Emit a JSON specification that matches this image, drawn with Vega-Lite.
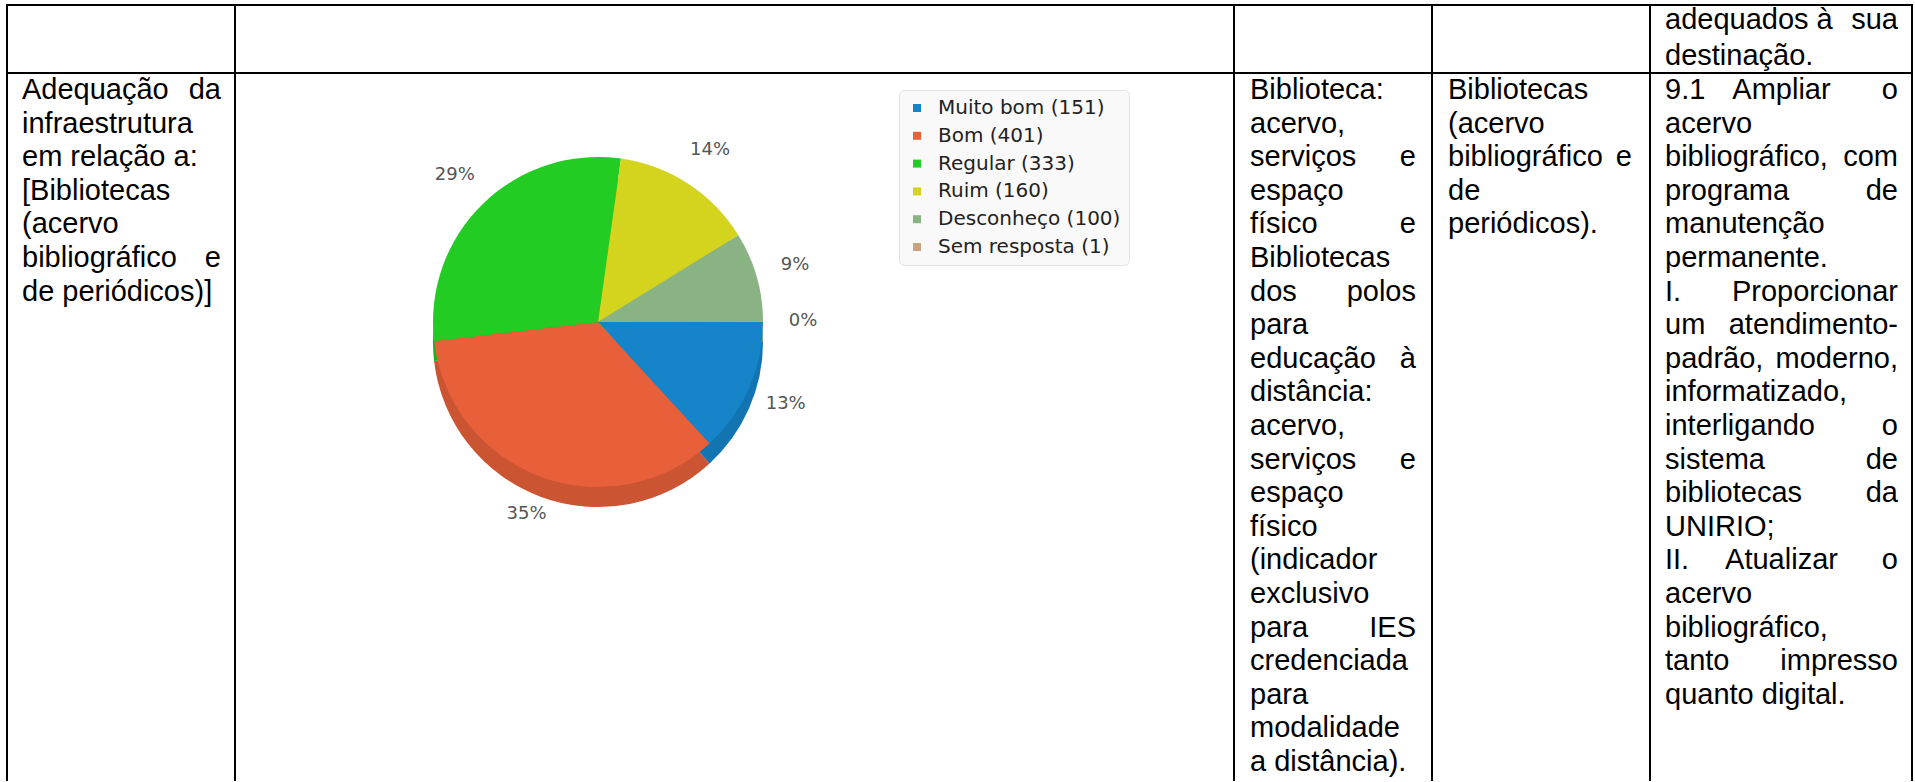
{
  "$schema": "https://vega.github.io/schema/vega-lite/v6.json",
  "padding": {"left": 6, "top": 4, "right": 2, "bottom": 0},
  "spacing": 0,
  "bounds": "flush",
  "columns": 5,
  "config": {
    "view": {"stroke": "#000000", "strokeWidth": 2},
    "text": {"font": "Liberation Sans", "fontSize": 29, "baseline": "alphabetic", "color": "#000000"},
    "legend": {"orient": "none", "legendX": 892, "legendY": 85, "title": null, "symbolType": "square", "symbolSize": 64, "symbolStrokeWidth": 0, "labelFont": "DejaVu Sans", "labelFontSize": 20, "labelColor": "#222222", "labelOffset": 11, "rowPadding": 7.8, "padding": 8, "fillColor": "#f9f9f9", "strokeColor": "#e3e3e3", "cornerRadius": 5, "labelLimit": 400}
  },
  "datasets": {
    "pie": [
      {"i": 1, "cat": "Muito bom (151)", "n": 151, "pct": "13%"},
      {"i": 2, "cat": "Bom (401)", "n": 401, "pct": "35%"},
      {"i": 3, "cat": "Regular (333)", "n": 333, "pct": "29%"},
      {"i": 4, "cat": "Ruim (160)", "n": 160, "pct": "14%"},
      {"i": 5, "cat": "Desconheço (100)", "n": 100, "pct": "9%"},
      {"i": 6, "cat": "Sem resposta (1)", "n": 1, "pct": "0%"}
    ],
    "cells": [
      {"r": 1, "c": 1, "line": 1, "pos": "L", "t": ""},
      {"r": 1, "c": 2, "line": 1, "pos": "L", "t": ""},
      {"r": 1, "c": 3, "line": 1, "pos": "L", "t": ""},
      {"r": 1, "c": 4, "line": 1, "pos": "L", "t": ""},

      {"r": 2, "c": 1, "line": 1, "pos": "L", "t": "Adequação"},
      {"r": 2, "c": 1, "line": 1, "pos": "R", "t": "da"},
      {"r": 2, "c": 1, "line": 2, "pos": "L", "t": "infraestrutura"},
      {"r": 2, "c": 1, "line": 3, "pos": "L", "t": "em relação a:"},
      {"r": 2, "c": 1, "line": 4, "pos": "L", "t": "[Bibliotecas"},
      {"r": 2, "c": 1, "line": 5, "pos": "L", "t": "(acervo"},
      {"r": 2, "c": 1, "line": 6, "pos": "L", "t": "bibliográfico"},
      {"r": 2, "c": 1, "line": 6, "pos": "R", "t": "e"},
      {"r": 2, "c": 1, "line": 7, "pos": "L", "t": "de periódicos)]"},

      {"r": 2, "c": 3, "line": 1, "pos": "L", "t": "Biblioteca:"},
      {"r": 2, "c": 3, "line": 2, "pos": "L", "t": "acervo,"},
      {"r": 2, "c": 3, "line": 3, "pos": "L", "t": "serviços"},
      {"r": 2, "c": 3, "line": 3, "pos": "R", "t": "e"},
      {"r": 2, "c": 3, "line": 4, "pos": "L", "t": "espaço"},
      {"r": 2, "c": 3, "line": 5, "pos": "L", "t": "físico"},
      {"r": 2, "c": 3, "line": 5, "pos": "R", "t": "e"},
      {"r": 2, "c": 3, "line": 6, "pos": "L", "t": "Bibliotecas"},
      {"r": 2, "c": 3, "line": 7, "pos": "L", "t": "dos"},
      {"r": 2, "c": 3, "line": 7, "pos": "R", "t": "polos"},
      {"r": 2, "c": 3, "line": 8, "pos": "L", "t": "para"},
      {"r": 2, "c": 3, "line": 9, "pos": "L", "t": "educação"},
      {"r": 2, "c": 3, "line": 9, "pos": "R", "t": "à"},
      {"r": 2, "c": 3, "line": 10, "pos": "L", "t": "distância:"},
      {"r": 2, "c": 3, "line": 11, "pos": "L", "t": "acervo,"},
      {"r": 2, "c": 3, "line": 12, "pos": "L", "t": "serviços"},
      {"r": 2, "c": 3, "line": 12, "pos": "R", "t": "e"},
      {"r": 2, "c": 3, "line": 13, "pos": "L", "t": "espaço"},
      {"r": 2, "c": 3, "line": 14, "pos": "L", "t": "físico"},
      {"r": 2, "c": 3, "line": 15, "pos": "L", "t": "(indicador"},
      {"r": 2, "c": 3, "line": 16, "pos": "L", "t": "exclusivo"},
      {"r": 2, "c": 3, "line": 17, "pos": "L", "t": "para"},
      {"r": 2, "c": 3, "line": 17, "pos": "R", "t": "IES"},
      {"r": 2, "c": 3, "line": 18, "pos": "L", "t": "credenciada"},
      {"r": 2, "c": 3, "line": 19, "pos": "L", "t": "para"},
      {"r": 2, "c": 3, "line": 20, "pos": "L", "t": "modalidade"},
      {"r": 2, "c": 3, "line": 21, "pos": "L", "t": "a distância)."},

      {"r": 2, "c": 4, "line": 1, "pos": "L", "t": "Bibliotecas"},
      {"r": 2, "c": 4, "line": 2, "pos": "L", "t": "(acervo"},
      {"r": 2, "c": 4, "line": 3, "pos": "L", "t": "bibliográfico"},
      {"r": 2, "c": 4, "line": 3, "pos": "R", "t": "e"},
      {"r": 2, "c": 4, "line": 4, "pos": "L", "t": "de"},
      {"r": 2, "c": 4, "line": 5, "pos": "L", "t": "periódicos)."},

      {"r": 1, "c": 5, "line": 1, "pos": "L", "t": "adequados à"},
      {"r": 1, "c": 5, "line": 1, "pos": "R", "t": "sua"},
      {"r": 1, "c": 5, "line": 2, "pos": "L", "t": "destinação."},

      {"r": 2, "c": 5, "line": 1, "pos": "L", "t": "9.1"},
      {"r": 2, "c": 5, "line": 1, "pos": "C", "t": "Ampliar"},
      {"r": 2, "c": 5, "line": 1, "pos": "R", "t": "o"},
      {"r": 2, "c": 5, "line": 2, "pos": "L", "t": "acervo"},
      {"r": 2, "c": 5, "line": 3, "pos": "L", "t": "bibliográfico,"},
      {"r": 2, "c": 5, "line": 3, "pos": "R", "t": "com"},
      {"r": 2, "c": 5, "line": 4, "pos": "L", "t": "programa"},
      {"r": 2, "c": 5, "line": 4, "pos": "R", "t": "de"},
      {"r": 2, "c": 5, "line": 5, "pos": "L", "t": "manutenção"},
      {"r": 2, "c": 5, "line": 6, "pos": "L", "t": "permanente."},
      {"r": 2, "c": 5, "line": 7, "pos": "L", "t": "I."},
      {"r": 2, "c": 5, "line": 7, "pos": "R", "t": "Proporcionar"},
      {"r": 2, "c": 5, "line": 8, "pos": "L", "t": "um"},
      {"r": 2, "c": 5, "line": 8, "pos": "R", "t": "atendimento-"},
      {"r": 2, "c": 5, "line": 9, "pos": "L", "t": "padrão,"},
      {"r": 2, "c": 5, "line": 9, "pos": "R", "t": "moderno,"},
      {"r": 2, "c": 5, "line": 10, "pos": "L", "t": "informatizado,"},
      {"r": 2, "c": 5, "line": 11, "pos": "L", "t": "interligando"},
      {"r": 2, "c": 5, "line": 11, "pos": "R", "t": "o"},
      {"r": 2, "c": 5, "line": 12, "pos": "L", "t": "sistema"},
      {"r": 2, "c": 5, "line": 12, "pos": "R", "t": "de"},
      {"r": 2, "c": 5, "line": 13, "pos": "L", "t": "bibliotecas"},
      {"r": 2, "c": 5, "line": 13, "pos": "R", "t": "da"},
      {"r": 2, "c": 5, "line": 14, "pos": "L", "t": "UNIRIO;"},
      {"r": 2, "c": 5, "line": 15, "pos": "L", "t": "II."},
      {"r": 2, "c": 5, "line": 15, "pos": "C", "t": "Atualizar"},
      {"r": 2, "c": 5, "line": 15, "pos": "R", "t": "o"},
      {"r": 2, "c": 5, "line": 16, "pos": "L", "t": "acervo"},
      {"r": 2, "c": 5, "line": 17, "pos": "L", "t": "bibliográfico,"},
      {"r": 2, "c": 5, "line": 18, "pos": "L", "t": "tanto"},
      {"r": 2, "c": 5, "line": 18, "pos": "R", "t": "impresso"},
      {"r": 2, "c": 5, "line": 19, "pos": "L", "t": "quanto digital."}
    ]
  },
  "concat": [
    {
      "width": 228, "height": 68,
      "data": {"name": "cells"},
      "transform": [{"filter": "datum.r == 1 && datum.c == 1"}],
      "mark": {"type": "text", "align": "left"},
      "encoding": {
        "x": {"field": "pos", "type": "nominal", "axis": null, "scale": {"type": "point", "domain": ["L", "C", "R"], "range": [15, 214], "padding": 0}},
        "y": {"field": "line", "type": "quantitative", "axis": null, "scale": {"domain": [1, 21], "range": [26, 698]}},
        "text": {"field": "t", "type": "nominal"}
      }
    },
    {
      "width": 999, "height": 68,
      "data": {"name": "cells"},
      "transform": [{"filter": "datum.r == 1 && datum.c == 2"}],
      "mark": {"type": "text", "align": "left"},
      "encoding": {
        "x": {"field": "pos", "type": "nominal", "axis": null, "scale": {"type": "point", "domain": ["L", "C", "R"], "range": [15, 984], "padding": 0}},
        "y": {"field": "line", "type": "quantitative", "axis": null, "scale": {"domain": [1, 21], "range": [26, 698]}},
        "text": {"field": "t", "type": "nominal"}
      }
    },
    {
      "width": 198, "height": 68,
      "data": {"name": "cells"},
      "transform": [{"filter": "datum.r == 1 && datum.c == 3"}],
      "mark": {"type": "text", "align": "left"},
      "encoding": {
        "x": {"field": "pos", "type": "nominal", "axis": null, "scale": {"type": "point", "domain": ["L", "C", "R"], "range": [16, 182], "padding": 0}},
        "y": {"field": "line", "type": "quantitative", "axis": null, "scale": {"domain": [1, 21], "range": [26, 698]}},
        "text": {"field": "t", "type": "nominal"}
      }
    },
    {
      "width": 218, "height": 68,
      "data": {"name": "cells"},
      "transform": [{"filter": "datum.r == 1 && datum.c == 4"}],
      "mark": {"type": "text", "align": "left"},
      "encoding": {
        "x": {"field": "pos", "type": "nominal", "axis": null, "scale": {"type": "point", "domain": ["L", "C", "R"], "range": [16, 200], "padding": 0}},
        "y": {"field": "line", "type": "quantitative", "axis": null, "scale": {"domain": [1, 21], "range": [26, 698]}},
        "text": {"field": "t", "type": "nominal"}
      }
    },
    {
      "width": 262, "height": 68,
      "data": {"name": "cells"},
      "transform": [{"filter": "datum.r == 1 && datum.c == 5"}],
      "encoding": {
        "x": {"field": "pos", "type": "nominal", "axis": null, "scale": {"type": "point", "domain": ["L", "C", "R"], "range": [15, 248], "padding": 0}},
        "y": {"field": "line", "type": "quantitative", "axis": null, "scale": {"domain": [1, 2], "range": [24, 59.6]}},
        "text": {"field": "t", "type": "nominal"}
      },
      "layer": [
        {"transform": [{"filter": "datum.pos == 'L'"}], "mark": {"type": "text", "align": "left"}},
        {"transform": [{"filter": "datum.pos == 'C'"}], "mark": {"type": "text", "align": "center"}},
        {"transform": [{"filter": "datum.pos == 'R'"}], "mark": {"type": "text", "align": "right"}}
      ]
    },
    {
      "width": 228, "height": 708,
      "view": {"strokeDash": [936, 228, 718]},
      "data": {"name": "cells"},
      "transform": [{"filter": "datum.r == 2 && datum.c == 1"}],
      "encoding": {
        "x": {"field": "pos", "type": "nominal", "axis": null, "scale": {"type": "point", "domain": ["L", "C", "R"], "range": [15, 214], "padding": 0}},
        "y": {"field": "line", "type": "quantitative", "axis": null, "scale": {"domain": [1, 21], "range": [26, 698]}},
        "text": {"field": "t", "type": "nominal"}
      },
      "layer": [
        {"transform": [{"filter": "datum.pos == 'L'"}], "mark": {"type": "text", "align": "left"}},
        {"transform": [{"filter": "datum.pos == 'C'"}], "mark": {"type": "text", "align": "center"}},
        {"transform": [{"filter": "datum.pos == 'R'"}], "mark": {"type": "text", "align": "right"}}
      ]
    },
    {
      "width": 726, "height": 498,
      "view": {"stroke": null},
      "data": {"name": "pie"},
      "encoding": {
        "theta": {"field": "n", "type": "quantitative", "stack": true, "scale": {"range": [1.5708, 7.854]}},
        "order": {"field": "i", "type": "quantitative"}
      },
      "layer": [
        {
          "mark": {"type": "arc", "radius": 165, "yOffset": 20},
          "encoding": {"color": {"field": "cat", "type": "nominal", "scale": {"domain": ["Muito bom (151)", "Bom (401)", "Regular (333)", "Ruim (160)", "Desconheço (100)", "Sem resposta (1)"], "range": ["#1584c9", "#e8603a", "#22cc22", "#d4d41e", "#8ab384", "#c9a27e"]}}}
        },
        {
          "mark": {"type": "arc", "radius": 165, "yOffset": 20, "fill": "#000000", "fillOpacity": 0.12}
        },
        {
          "mark": {"type": "arc", "radius": 165},
          "encoding": {"color": {"field": "cat", "type": "nominal"}}
        },
        {
          "mark": {"type": "text", "radius": 205, "font": "DejaVu Sans", "fontSize": 18, "color": "#555555", "baseline": "middle", "align": "center"},
          "encoding": {"text": {"field": "pct", "type": "nominal"}}
        }
      ]
    },
    {
      "width": 198, "height": 708,
      "view": {"strokeDash": [906, 198, 718]},
      "data": {"name": "cells"},
      "transform": [{"filter": "datum.r == 2 && datum.c == 3"}],
      "encoding": {
        "x": {"field": "pos", "type": "nominal", "axis": null, "scale": {"type": "point", "domain": ["L", "C", "R"], "range": [16, 182], "padding": 0}},
        "y": {"field": "line", "type": "quantitative", "axis": null, "scale": {"domain": [1, 21], "range": [26, 698]}},
        "text": {"field": "t", "type": "nominal"}
      },
      "layer": [
        {"transform": [{"filter": "datum.pos == 'L'"}], "mark": {"type": "text", "align": "left"}},
        {"transform": [{"filter": "datum.pos == 'C'"}], "mark": {"type": "text", "align": "center"}},
        {"transform": [{"filter": "datum.pos == 'R'"}], "mark": {"type": "text", "align": "right"}}
      ]
    },
    {
      "width": 218, "height": 708,
      "view": {"strokeDash": [926, 218, 718]},
      "data": {"name": "cells"},
      "transform": [{"filter": "datum.r == 2 && datum.c == 4"}],
      "encoding": {
        "x": {"field": "pos", "type": "nominal", "axis": null, "scale": {"type": "point", "domain": ["L", "C", "R"], "range": [16, 200], "padding": 0}},
        "y": {"field": "line", "type": "quantitative", "axis": null, "scale": {"domain": [1, 21], "range": [26, 698]}},
        "text": {"field": "t", "type": "nominal"}
      },
      "layer": [
        {"transform": [{"filter": "datum.pos == 'L'"}], "mark": {"type": "text", "align": "left"}},
        {"transform": [{"filter": "datum.pos == 'C'"}], "mark": {"type": "text", "align": "center"}},
        {"transform": [{"filter": "datum.pos == 'R'"}], "mark": {"type": "text", "align": "right"}}
      ]
    },
    {
      "width": 262, "height": 708,
      "view": {"strokeDash": [970, 262, 718]},
      "data": {"name": "cells"},
      "transform": [{"filter": "datum.r == 2 && datum.c == 5"}],
      "encoding": {
        "x": {"field": "pos", "type": "nominal", "axis": null, "scale": {"type": "point", "domain": ["L", "C", "R"], "range": [15, 248], "padding": 0}},
        "y": {"field": "line", "type": "quantitative", "axis": null, "scale": {"domain": [1, 21], "range": [26, 698]}},
        "text": {"field": "t", "type": "nominal"}
      },
      "layer": [
        {"transform": [{"filter": "datum.pos == 'L'"}], "mark": {"type": "text", "align": "left"}},
        {"transform": [{"filter": "datum.pos == 'C'"}], "mark": {"type": "text", "align": "center"}},
        {"transform": [{"filter": "datum.pos == 'R'"}], "mark": {"type": "text", "align": "right"}}
      ]
    }
  ]
}
